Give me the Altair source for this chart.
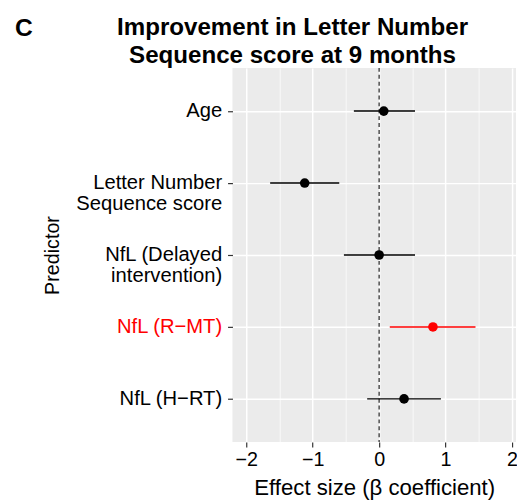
import altair as alt
import pandas as pd

# ---- data ----
predictors = [
    "Age",
    "Letter Number\nSequence score",
    "NfL (Delayed\nintervention)",
    "NfL (R\u2212MT)",
    "NfL (H\u2212RT)",
]
estimate = [0.07, -1.12, 0.0, 0.81, 0.375]
lower = [-0.38, -1.64, -0.53, 0.16, -0.18]
upper = [0.54, -0.60, 0.54, 1.45, 0.93]
group = ["other", "other", "other", "highlight", "other"]

x_values = [-2, -1.5, -1, -0.5, 0, 0.5, 1, 1.5, 2]
reference_line = [0]
panel_label = ["C"]
title_lines = ["Improvement in Letter Number", "Sequence score at 9 months"]

df = pd.DataFrame({
    "predictor": predictors,
    "estimate": estimate,
    "lower": lower,
    "upper": upper,
    "group": group,
})

FONT = "Liberation Sans"
highlight_label = predictors[3]

x_scale = alt.Scale(domain=[-2.207, 2.06], nice=False, zero=False)
y_scale = alt.Scale(type="point", padding=0.6)
color_scale = alt.Scale(domain=["other", "highlight"], range=["#000000", "#FF0000"])

x_axis = alt.Axis(
    values=x_values,
    labelExpr="datum.value % 1 == 0 ? format(datum.value, 'd') : ''",
    title="Effect size (\u03b2 coefficient)",
    titleFontSize=22.5,
    titleFontWeight="normal",
    titleColor="#000000",
    titlePadding=7,
    labelFontSize=20,
    labelColor="#000000",
    labelPadding=3,
    labelFlush=False,
    labelOverlap=False,
    tickSize=5,
    tickColor="#333333",
    tickWidth=1.2,
    tickOpacity={"condition": {"test": "datum.value % 1 != 0", "value": 0}, "value": 1},
    grid=True,
    gridColor="#FFFFFF",
    gridWidth={"condition": {"test": "datum.value % 1 != 0", "value": 0.7}, "value": 1.5},
    domain=False,
)

y_axis = alt.Axis(
    title="Predictor",
    titleFontSize=20,
    titleFontWeight="normal",
    titleColor="#000000",
    titlePadding=14,
    labelExpr="split(datum.label, '\\n')",
    labelFontSize=20.5,
    labelLineHeight=21,
    labelColor={"condition": {"test": "datum.value == '" + highlight_label + "'", "value": "#FF0000"}, "value": "#000000"},
    labelPadding=6,
    tickSize=5,
    tickColor="#333333",
    tickWidth=1.2,
    grid=True,
    gridColor="#FFFFFF",
    gridWidth=1.5,
    domain=False,
)

base = alt.Chart(df)

zero_line = alt.Chart(pd.DataFrame({"ref": reference_line})).mark_rule(
    color="#333333", strokeWidth=1.3, strokeDash=[4, 3]
).encode(x=alt.X("ref:Q", scale=x_scale, axis=x_axis))

bars = base.mark_rule(strokeWidth=1.5).encode(
    x=alt.X("lower:Q", scale=x_scale, axis=x_axis),
    x2="upper:Q",
    y=alt.Y("predictor:N", sort=predictors, scale=y_scale, axis=y_axis),
    color=alt.Color("group:N", scale=color_scale, legend=None),
)

points = base.mark_circle(size=95, opacity=1).encode(
    x=alt.X("estimate:Q", scale=x_scale, axis=x_axis),
    y=alt.Y("predictor:N", sort=predictors, scale=y_scale, axis=y_axis),
    color=alt.Color("group:N", scale=color_scale, legend=None),
)

label = alt.Chart(pd.DataFrame({"panel": panel_label})).mark_text(
    font=FONT, fontSize=25, fontWeight="bold", align="left", baseline="alphabetic", color="#000000"
).encode(text="panel:N", x=alt.value(-221), y=alt.value(-32))

chart = alt.layer(zero_line, bars, points, label).properties(
    width=288,
    height=380,
    autosize=alt.AutoSizeParams(type="none"),
    padding={"left": 228, "top": 57, "right": 1, "bottom": 56},
    title=alt.TitleParams(
        text=title_lines,
        fontSize=24.5,
        fontWeight="bold",
        font=FONT,
        color="#000000",
        anchor="middle",
        frame="group",
        dx=-83,
        lineHeight=29,
        baseline="bottom",
        offset=-77,
    ),
).configure(
    font=FONT
).configure_view(
    fill="#EBEBEB", stroke="transparent", strokeWidth=0
)

chart.save("out.html", embed_options={"renderer": "svg", "actions": False})
